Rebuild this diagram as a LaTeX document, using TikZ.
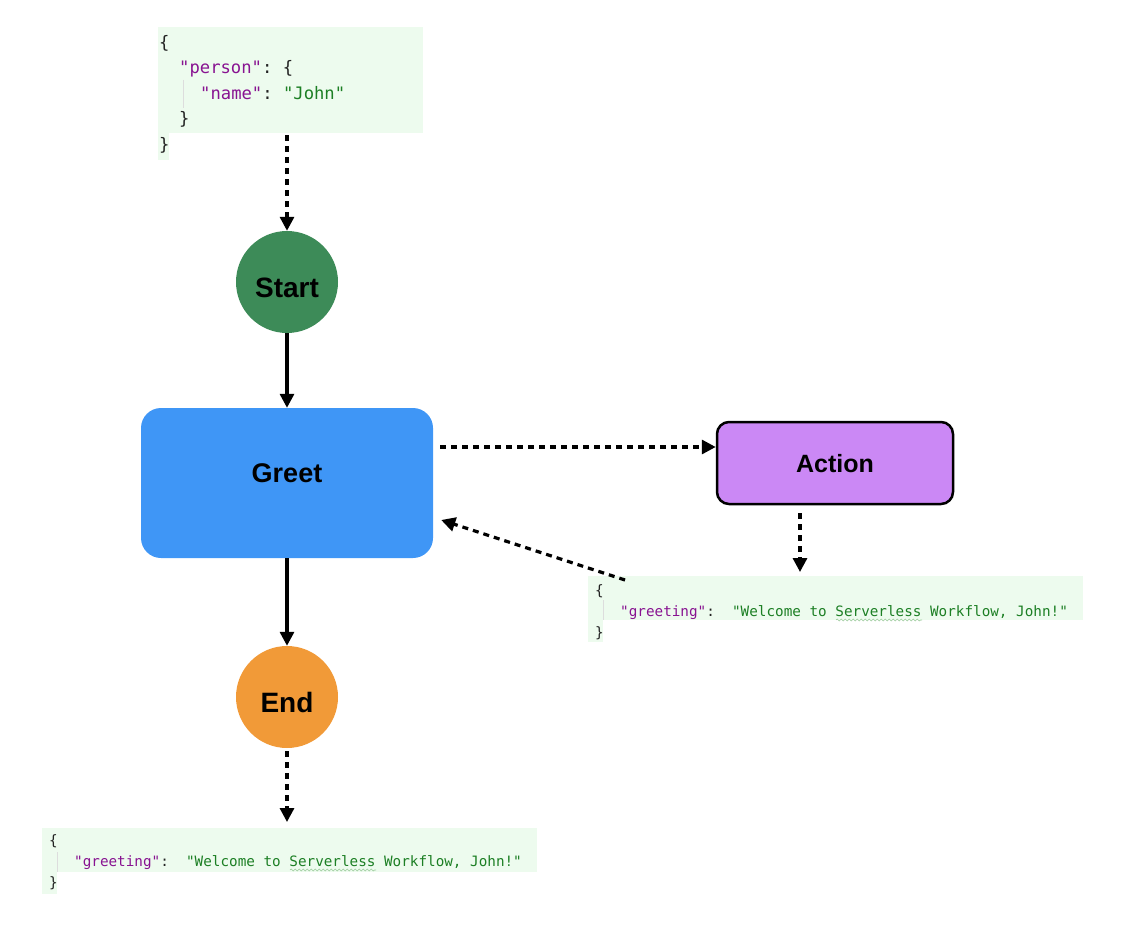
\documentclass[tikz,border=0pt]{standalone}
\usepackage{fontspec}
\setmainfont{Liberation Sans}
\setmonofont{DejaVu Sans Mono}
\usetikzlibrary{arrows.meta,decorations.pathmorphing}

\definecolor{startgreen}{HTML}{3D8B58}
\definecolor{greetblue}{HTML}{3F96F6}
\definecolor{actionpurple}{HTML}{CB88F5}
\definecolor{endorange}{HTML}{F19A38}
\definecolor{jsonback}{HTML}{EDFBEE}
\definecolor{jsonkey}{HTML}{881391}
\definecolor{jsonstr}{HTML}{1C7F24}
\definecolor{jsonpunct}{HTML}{222222}
\definecolor{guidegray}{HTML}{DDDDDD}
\definecolor{spellgreen}{HTML}{9CCB9C}

\newcommand{\jkey}[1]{\textcolor{jsonkey}{#1}}
\newcommand{\jstr}[1]{\textcolor{jsonstr}{#1}}

\begin{document}
\begin{tikzpicture}[
        x=1pt, y=-1pt,
        state/.style={circle, minimum size=102pt, inner sep=0pt, text height=30pt, text depth=0pt, font=\fontsize{28}{32}\selectfont\bfseries}, % Start / End
        task/.style={rectangle, inner sep=0pt, font=\fontsize{25}{30}\selectfont\bfseries}, % estados de trabalho
        flow/.style={-{Triangle[length=14pt,width=14pt]}, line width=3.2pt},
        async/.style={flow, dash pattern=on 6pt off 5pt},
        jsonbg/.style={fill=jsonback, inner sep=0pt, anchor=north west},
        bigcode/.style={anchor=base west, inner sep=0pt, text=jsonpunct, font=\ttfamily\fontsize{17.2}{20}\selectfont},
        code/.style={anchor=base west, inner sep=0pt, text=jsonpunct, font=\ttfamily\fontsize{14.3}{18}\selectfont},
        guide/.style={draw=guidegray, line width=1pt},
        squiggle/.style={draw=spellgreen, line width=0.6pt, decorate, decoration={snake, amplitude=1pt, segment length=4pt}}
    ]
    \useasboundingbox (0,0) rectangle (1122,928);

    % entrada
    \node[jsonbg, minimum width=265pt, minimum height=106pt] (input) at (158,27) {};
    \node[jsonbg, minimum width=11pt, minimum height=27pt] (inputtail) at (158,133) {};
    \draw[guide] (183,80) -- (183,108);
    \node[bigcode] (in1) at (159,49) {\{};
    \node[bigcode] (in2) at (179,74) {\jkey{"person"}: \{};
    \node[bigcode] (in3) at (200,100) {\jkey{"name"}: \jstr{"John"}};
    \node[bigcode] (in4) at (179,125) {\}};
    \node[bigcode] (in5) at (159,151) {\}};

    % estados
    \node[state, fill=startgreen] (start) at (287,282) {Start};
    \node[task, fill=greetblue, rounded corners=20pt, minimum width=292pt, minimum height=150pt, text depth=20pt, font=\fontsize{27}{30}\selectfont\bfseries] (greet) at (287,483) {Greet};
    \node[task, fill=actionpurple, draw=black, line width=2.5pt, rounded corners=12pt, minimum width=236pt, minimum height=82pt, text height=20pt] (action) at (835,463) {Action};
    \node[state, fill=endorange] (end) at (287,697) {End};

    % resposta da acao
    \node[jsonbg, minimum width=495pt, minimum height=44pt] (reply) at (588,576) {};
    \node[jsonbg, minimum width=15pt, minimum height=22pt] (replytail) at (588,620) {};
    \draw[guide] (603,600) -- (603,620);
    \node[code] (re1) at (595,595) {\{};
    \node[code] (re2) at (620,616) {\jkey{"greeting"}:\ \ \jstr{"Welcome to Serverless Workflow, John!"}};
    \node[code] (re3) at (595,637) {\}};
    \draw[squiggle] (836,620) -- (922,620);

    % saida
    \node[jsonbg, minimum width=495pt, minimum height=44pt] (result) at (42,828) {};
    \node[jsonbg, minimum width=15pt, minimum height=22pt] (resulttail) at (42,872) {};
    \draw[guide] (57,852) -- (57,872);
    \node[code] (out1) at (49,845) {\{};
    \node[code] (out2) at (74,866) {\jkey{"greeting"}:\ \ \jstr{"Welcome to Serverless Workflow, John!"}};
    \node[code] (out3) at (49,887) {\}};
    \draw[squiggle] (290,870) -- (376,870);

    % ligacoes
    \coordinate (sendy) at (0,447);
    \coordinate (outx) at (800,0);
    \coordinate (back) at (625,580);
    \coordinate (backy) at (0,520);
    \draw[async] ([yshift=-2pt]input.south -| start) -- (start.north);
    \draw[flow] (start) -- (greet);
    \draw[async] ([xshift=7pt]greet.east |- sendy) -- (action.west |- sendy);
    \draw[async] ([yshift=-8pt]action.south -| outx) -- ([yshift=4pt]reply.north -| outx);
    \draw[async] (back) -- ([xshift=8pt]greet.east |- backy);
    \draw[flow] (greet) -- (end);
    \draw[async] ([yshift=-3pt]end.south) -- ([yshift=6pt]result.north -| end);
\end{tikzpicture}
\end{document}
